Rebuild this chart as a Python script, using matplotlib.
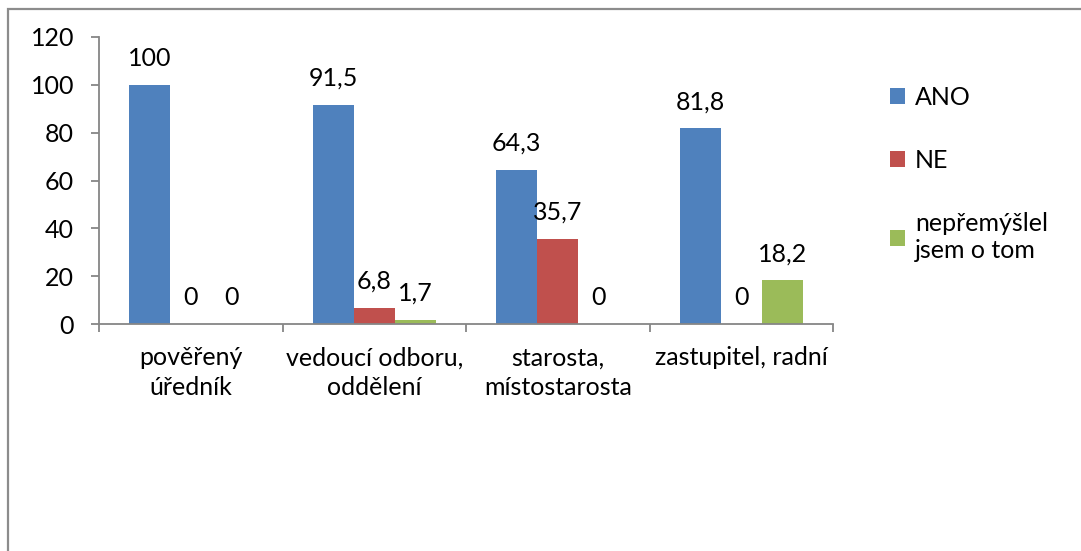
import matplotlib

matplotlib.use("Agg")
import matplotlib.pyplot as plt
import numpy as np
from matplotlib.patches import Rectangle

categories = ["pověřený\núředník", "vedoucí odboru,\noddělení",
              "starosta,\nmístostarosta", "zastupitel, radní"]
series_names = ["ANO", "NE", "nepřemýšlel\njsem o tom"]
ano = [100, 91.5, 64.3, 81.8]
ne = [0, 6.8, 35.7, 0]
nepremyslel = [0, 1.7, 0, 18.2]
colors = ["#4F81BD", "#C0504D", "#9BBB59"]
y_ticks = [0, 20, 40, 60, 80, 100, 120]

plt.rcParams["font.family"] = ["Lato", "DejaVu Sans"]
FS = 18
AXIS_GRAY = "#868686"

fig = plt.figure(figsize=(10.81, 5.51), dpi=100)
ax = fig.add_axes([99 / 1081, 1 - 324 / 551, (833 - 99) / 1081, (324 - 37) / 551])

# outer chart frame (runs off the right and bottom edge)
fig.patches.append(Rectangle((8 / 1081, -0.05), 1.2, 1 - 9 / 551 + 0.05,
                             transform=fig.transFigure, fill=False,
                             edgecolor="#8c8c8c", linewidth=1.6))

x = np.arange(len(categories))
width = 0.2234
for i, (vals, col, name) in enumerate(zip([ano, ne, nepremyslel], colors, series_names)):
    bars = ax.bar(x + (i - 1) * width, vals, width, color=col, label=name)
    for b, v in zip(bars, vals):
        txt = f"{v:g}".replace(".", ",")
        ax.annotate(txt, (b.get_x() + b.get_width() / 2, v), xytext=(0, 11),
                    textcoords="offset points", ha="center", va="bottom",
                    fontsize=FS)

ax.set_xlim(-0.5, len(categories) - 0.5)
ax.set_ylim(0, 120)
ax.set_yticks(y_ticks)
ax.set_yticklabels([str(t) for t in y_ticks], fontsize=FS)
ax.set_xticks(np.arange(len(categories) + 1) - 0.5)
ax.set_xticklabels([])
ax.set_xticks(x, minor=True)
ax.set_xticklabels(categories, minor=True, fontsize=FS, linespacing=1.35)
ax.tick_params(axis="x", which="major", length=6, color=AXIS_GRAY, width=1.3)
ax.tick_params(axis="x", which="minor", length=0, pad=16)
ax.tick_params(axis="y", length=6, color=AXIS_GRAY, width=1.3, pad=12)

for side in ["top", "right"]:
    ax.spines[side].set_visible(False)
for side in ["left", "bottom"]:
    ax.spines[side].set_color(AXIS_GRAY)
    ax.spines[side].set_linewidth(1.3)

ax.legend(loc="upper left", bbox_to_anchor=(890 / 1081, 1 - 86 / 551),
          bbox_transform=fig.transFigure, frameon=False, fontsize=FS,
          handlelength=0.6, handleheight=0.6, handletextpad=0.4,
          labelspacing=1.6, borderpad=0, borderaxespad=0)

fig.savefig("out.png", dpi=100)
